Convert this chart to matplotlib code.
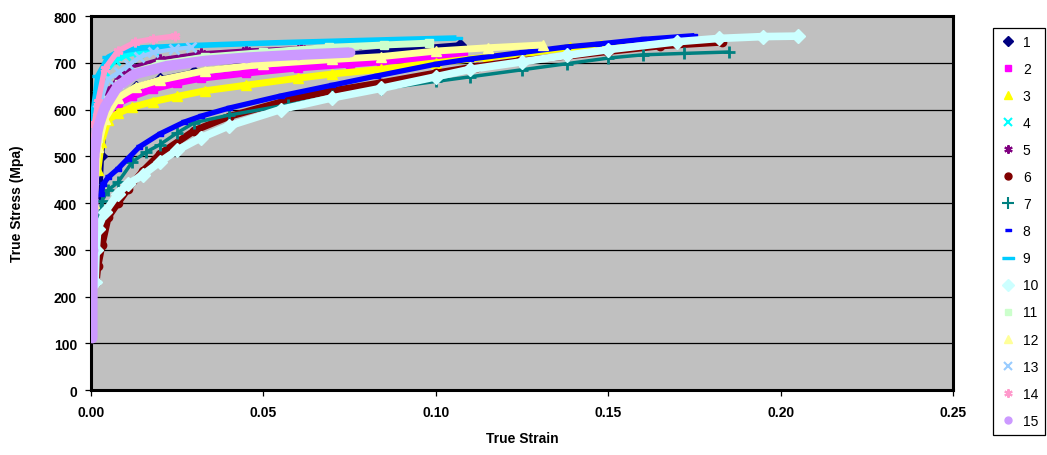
import matplotlib
matplotlib.use('Agg')
import matplotlib.pyplot as plt
from matplotlib.ticker import MultipleLocator, FormatStrFormatter

plt.rcParams['font.family'] = ['Liberation Sans', 'DejaVu Sans']

# true strain / true stress (Mpa), one pair per specimen
strain_1 = [0.0025, 0.003, 0.004, 0.007, 0.013, 0.02, 0.03, 0.05, 0.07, 0.09, 0.107]
stress_1 = [420, 500, 580, 620, 648, 665, 680, 700, 715, 728, 738]

strain_2 = [0.0003, 0.001, 0.003, 0.0055, 0.0078, 0.012, 0.018, 0.025, 0.032, 0.045, 0.06, 0.075, 0.084, 0.095, 0.108]
stress_2 = [520, 560, 590, 603, 613, 628, 644, 657, 667, 678, 689, 697, 702, 709, 716]

strain_3 = [0.002, 0.003, 0.005, 0.0078, 0.012, 0.018, 0.025, 0.033, 0.045, 0.06, 0.07, 0.084, 0.1, 0.115, 0.128, 0.139, 0.148, 0.155]
stress_3 = [470, 530, 578, 592, 605, 617, 628, 640, 652, 667, 676, 686, 700, 712, 722, 733, 738, 741]

strain_4 = [0.0002, 0.0005, 0.001, 0.002, 0.004, 0.007, 0.01, 0.014, 0.018]
stress_4 = [300, 480, 560, 630, 680, 705, 716, 724, 728]

strain_5 = [0.0005, 0.002, 0.005, 0.008, 0.012, 0.02, 0.032, 0.045, 0.061, 0.078]
stress_5 = [400, 560, 640, 670, 691, 708, 721, 727, 732, 740]

strain_6 = [0.0015, 0.002, 0.0032, 0.005, 0.0078, 0.0107, 0.015, 0.02, 0.03, 0.04, 0.058, 0.07, 0.084, 0.1, 0.112, 0.124, 0.138, 0.15, 0.165, 0.183]
stress_6 = [230, 265, 310, 370, 400, 430, 468, 505, 555, 585, 622, 640, 657, 678, 692, 704, 714, 724, 736, 744]

strain_7 = [0.0025, 0.0032, 0.005, 0.0078, 0.012, 0.016, 0.02, 0.025, 0.03, 0.04, 0.057, 0.07, 0.084, 0.1, 0.11, 0.125, 0.138, 0.15, 0.16, 0.172, 0.185]
stress_7 = [370, 405, 428, 444, 488, 509, 525, 550, 572, 588, 610, 628, 644, 660, 670, 685, 698, 710, 717, 720, 723]

strain_8 = [0.003, 0.0035, 0.005, 0.0078, 0.0107, 0.014, 0.02, 0.027, 0.032, 0.04, 0.055, 0.07, 0.083, 0.1, 0.11, 0.125, 0.138, 0.147, 0.16, 0.175]
stress_8 = [420, 440, 455, 473, 495, 520, 548, 573, 586, 603, 629, 652, 672, 697, 708, 722, 734, 740, 750, 758]

strain_9 = [0.0002, 0.0003, 0.0005, 0.002, 0.005, 0.0084, 0.015, 0.03, 0.05, 0.07, 0.09, 0.106]
stress_9 = [350, 500, 586, 672, 712, 725, 732, 737, 742, 746, 750, 753]

strain_10 = [0.0012, 0.0015, 0.002, 0.004, 0.0078, 0.0107, 0.015, 0.02, 0.025, 0.032, 0.04, 0.055, 0.07, 0.084, 0.1, 0.11, 0.125, 0.138, 0.15, 0.17, 0.182, 0.195, 0.205]
stress_10 = [230, 300, 345, 380, 420, 440, 460, 488, 513, 540, 565, 600, 625, 645, 670, 686, 702, 716, 728, 745, 752, 756, 757]

strain_11 = [0.0005, 0.002, 0.005, 0.008, 0.013, 0.02, 0.033, 0.05, 0.069, 0.085, 0.098]
stress_11 = [350, 540, 620, 655, 680, 697, 712, 722, 733, 738, 742]

strain_12 = [0.0008, 0.002, 0.004, 0.0078, 0.013, 0.02, 0.033, 0.05, 0.07, 0.084, 0.1, 0.115, 0.131]
stress_12 = [400, 520, 580, 625, 648, 663, 683, 697, 707, 713, 725, 732, 738]

strain_13 = [0.0005, 0.002, 0.005, 0.008, 0.011, 0.014, 0.018, 0.024, 0.029]
stress_13 = [450, 600, 665, 680, 695, 712, 722, 729, 733]

strain_14 = [0.0002, 0.0005, 0.001, 0.002, 0.004, 0.0078, 0.0128, 0.018, 0.0244]
stress_14 = [300, 500, 570, 616, 687, 725, 744, 751, 757]

strain_15 = [0.0004, 0.0004, 0.0005, 0.0006, 0.0009, 0.002, 0.004, 0.0078, 0.0128, 0.022, 0.033, 0.045, 0.06, 0.075]
stress_15 = [112, 200, 300, 400, 500, 560, 605, 650, 676, 693, 704, 711, 717, 722]

labels = [str(i) for i in range(1, 16)]
strains = [strain_1, strain_2, strain_3, strain_4, strain_5, strain_6, strain_7, strain_8,
           strain_9, strain_10, strain_11, strain_12, strain_13, strain_14, strain_15]
stresses = [stress_1, stress_2, stress_3, stress_4, stress_5, stress_6, stress_7, stress_8,
            stress_9, stress_10, stress_11, stress_12, stress_13, stress_14, stress_15]

# excel default series colours / markers
colors = ['#000080', '#FF00FF', '#FFFF00', '#00FFFF', '#800080', '#800000', '#008080', '#0000FF',
          '#00CCFF', '#CCFFFF', '#CCFFCC', '#FFFF99', '#99CCFF', '#FF99CC', '#CC99FF']
short_dash = [(-1, -0.5), (1, -0.5), (1, 0.5), (-1, 0.5)]
long_dash = [(-1, -0.22), (1, -0.22), (1, 0.22), (-1, 0.22)]
star = (6, 2, 0)
markers = ['D', 's', '^', 'x', star, 'o', '+', short_dash,
           long_dash, 'D', 's', '^', 'x', star, 'o']
msizes = [6, 6, 7, 7, 7, 6, 9, 5, 9, 7, 6, 7, 7, 7, 6]
lwidths = [4, 5, 5, 4, 2.5, 5, 2.5, 3.8, 4, 5.5, 5, 5, 3, 4, 7.5]


def is_thin(m):
    return m in ('x', '+') or m == star


fig = plt.figure(figsize=(10.47, 4.56), dpi=100)
ax = fig.add_axes([0.0869, 0.1425, 0.8233, 0.8202])
ax.set_facecolor('#C0C0C0')

for i in range(15):
    ax.plot(strains[i], stresses[i], color=colors[i], lw=lwidths[i],
            marker=markers[i], ms=msizes[i], mfc=colors[i], mec=colors[i],
            mew=2 if is_thin(markers[i]) else 1,
            solid_capstyle='butt', label=labels[i], zorder=3 + i)

ax.set_xlim(0, 0.25)
ax.set_ylim(0, 800)
ax.xaxis.set_major_locator(MultipleLocator(0.05))
ax.xaxis.set_major_formatter(FormatStrFormatter('%.2f'))
ax.yaxis.set_major_locator(MultipleLocator(100))
ax.grid(axis='y', color='black', lw=0.9)
ax.set_axisbelow(True)
for sp in ax.spines.values():
    sp.set_linewidth(2.2)
ax.tick_params(axis='both', direction='out', length=4, width=0.9, labelsize=10)
ax.tick_params(axis='y', pad=6)
ax.tick_params(axis='x', pad=7)
for t in ax.get_xticklabels() + ax.get_yticklabels():
    t.set_fontweight('bold')

ax.set_xlabel('True Strain', fontsize=10, fontweight='bold')
ax.set_ylabel('True Stress (Mpa)', fontsize=10, fontweight='bold')
ax.xaxis.set_label_coords(0.5, -0.110)
ax.yaxis.set_label_coords(-0.078, 0.5)

# legend, markers only
handles = [plt.Line2D([], [], ls='none', marker=markers[i], ms=msizes[i] - 1, color=colors[i],
                      mew=1.5 if is_thin(markers[i]) else 1)
           for i in range(15)]
leg = fig.legend(handles, labels, loc='upper left', bbox_to_anchor=(993 / 1047, 1 - 29 / 456),
                 borderaxespad=0, fontsize=10, frameon=True, fancybox=False, edgecolor='black',
                 framealpha=1, handlelength=1.1, handletextpad=0.55, labelspacing=0.94, borderpad=0.5)
leg.get_frame().set_linewidth(0.9)

fig.savefig('out.png', dpi=100)
